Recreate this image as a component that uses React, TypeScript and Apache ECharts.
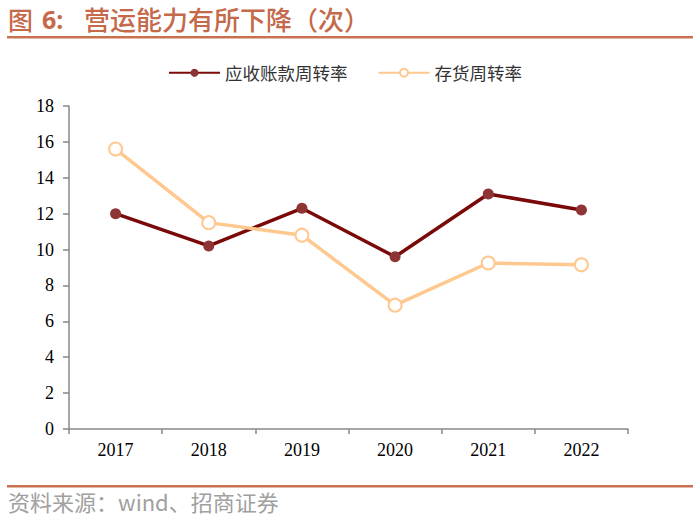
import React, { useEffect, useRef } from "react";
import * as echarts from "echarts";

const categories = ["2017", "2018", "2019", "2020", "2021", "2022"];
const receivableTurnover = [12.0, 10.2, 12.3, 9.6, 13.1, 12.2];
const inventoryTurnover = [15.6, 11.5, 10.8, 6.9, 9.25, 9.15];
const seriesNames = ["应收账款周转率", "存货周转率"];

export default function App() {
  const ref = useRef<HTMLDivElement>(null);
  useEffect(() => {
    if (!ref.current) return;
    const chart = echarts.init(ref.current, null, { renderer: "svg" });
    const titleColor = "#C4694A";
    chart.setOption({
      animation: false,
      backgroundColor: "#ffffff",
      graphic: [
        {
          type: "text",
          left: 8,
          top: 6,
          style: {
            text: "图",
            fill: titleColor,
            font: "500 25px 'Noto Sans CJK SC', sans-serif",
          },
        },
        {
          type: "text",
          left: 42,
          top: 6,
          style: {
            text: "6:",
            fill: titleColor,
            font: "bold 25px 'Noto Sans', 'DejaVu Sans', sans-serif",
          },
        },
        {
          type: "text",
          left: 84,
          top: 5,
          style: {
            text: "营运能力有所下降（次）",
            fill: titleColor,
            font: "500 26px 'Noto Sans CJK SC', sans-serif",
          },
        },
        {
          type: "rect",
          shape: { x: 7, y: 36, width: 686, height: 2.5 },
          style: { fill: "#C9704F" },
        },
        {
          type: "rect",
          shape: { x: 7, y: 485, width: 686, height: 2.5 },
          style: { fill: "#C9704F" },
        },
        {
          type: "text",
          left: 8,
          top: 490,
          style: {
            text: "资料来源：wind、招商证券",
            fill: "#A0A0A0",
            font: "22px 'Noto Sans CJK SC', sans-serif",
          },
        },
      ],
      legend: {
        top: 59,
        left: 163,
        itemWidth: 51,
        itemHeight: 10,
        itemGap: 30,
        textStyle: {
          fontFamily: "'Noto Sans CJK SC', sans-serif",
          fontSize: 17.5,
          color: "#333333",
        },
        data: seriesNames,
      },
      grid: { left: 69, right: 72, top: 106, bottom: 94 },
      xAxis: {
        type: "category",
        data: categories,
        boundaryGap: true,
        axisLine: { lineStyle: { color: "#888888", width: 1.5 } },
        axisTick: { show: true, length: 5, lineStyle: { color: "#888888", width: 1.5 } },
        axisLabel: {
          fontFamily: "'Liberation Serif', serif",
          fontSize: 18,
          color: "#000000",
          margin: 12,
        },
      },
      yAxis: {
        type: "value",
        min: 0,
        max: 18,
        interval: 2,
        splitLine: { show: false },
        axisLine: { show: true, lineStyle: { color: "#888888", width: 1.5 } },
        axisTick: { show: true, inside: false, length: 6, lineStyle: { color: "#888888", width: 1.5 } },
        axisLabel: {
          fontFamily: "'Liberation Serif', serif",
          fontSize: 18,
          color: "#000000",
          margin: 15,
        },
      },
      series: [
        {
          name: seriesNames[0],
          type: "line",
          data: receivableTurnover,
          symbol: "circle",
          symbolSize: 11,
          lineStyle: { color: "#7A0A0A", width: 3.5 },
          itemStyle: { color: "#8E3434", borderColor: "#8E3434", borderWidth: 0 },
        },
        {
          name: seriesNames[1],
          type: "line",
          data: inventoryTurnover,
          symbol: "circle",
          symbolSize: 13,
          lineStyle: { color: "#FFC88E", width: 3.5 },
          itemStyle: { color: "#FFFFFF", borderColor: "#FFC88E", borderWidth: 2 },
        },
      ],
    });
    return () => chart.dispose();
  }, []);
  return (
    <div
      ref={ref}
      style={{ position: "absolute", left: 0, top: 0, width: 700, height: 523 }}
    />
  );
}
